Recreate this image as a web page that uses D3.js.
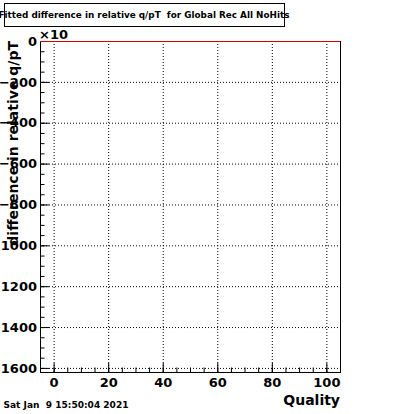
<!DOCTYPE html>
<html>
<head>
<meta charset="utf-8">
<script src="https://cdn.jsdelivr.net/npm/d3@7"></script>
<style>
  html, body { margin: 0; padding: 0; background: #fff; }
  svg { display: block; font-family: "DejaVu Sans", sans-serif; font-weight: bold; }
</style>
</head>
<body>
<svg id="chart" width="400" height="414"></svg>
<script>
// histogram content (all bins empty -> flat line at 0)
const binEdges = [-5, 105];
const binValues = [0, 0];

const xTicks = [0, 20, 40, 60, 80, 100];
const yTicks = [0, -200, -400, -600, -800, -1000, -1200, -1400, -1600];

const titleText = "Fitted difference in relative q/pT  for Global Rec All NoHits";
const xTitle = "Quality";
const yTitle = "difference in relative q/pT";
const dateText = "Sat Jan  9 15:50:04 2021";

const width = 400, height = 414;
const frame = { left: 40, right: 340, top: 41, bottom: 372 };

const svg = d3.select("#chart");

const x = d3.scaleLinear().domain([-5, 105]).range([frame.left, frame.right]);
const y = d3.scaleLinear().domain([0, -1620]).range([frame.top, frame.bottom]);

const xMinor = d3.range(-5, 106, 5);
const yMinor = d3.range(0, -1621, -50);

const fmtY = d => d === 0 ? "0" : "\u2212" + Math.abs(d);

// grid (dotted)
const grid = svg.append("g");
grid.append("g")
  .attr("transform", `translate(0,${frame.bottom})`)
  .call(d3.axisBottom(x).tickValues(xTicks).tickSize(-(frame.bottom - frame.top)).tickFormat(""))
  .call(g => g.select(".domain").remove());
grid.append("g")
  .attr("transform", `translate(${frame.left},0)`)
  .call(d3.axisLeft(y).tickValues(yTicks).tickSize(-(frame.right - frame.left)).tickFormat(""))
  .call(g => g.select(".domain").remove());
grid.selectAll("line")
  .attr("stroke", "#000")
  .attr("stroke-width", 1)
  .attr("stroke-dasharray", "1,2");

// frame
svg.append("rect")
  .attr("x", frame.left + 0.5)
  .attr("y", frame.top + 0.5)
  .attr("width", frame.right - frame.left)
  .attr("height", frame.bottom - frame.top)
  .attr("fill", "none")
  .attr("stroke", "#000")
  .attr("stroke-width", 1);

// minor ticks
svg.append("g")
  .attr("transform", `translate(0,${frame.bottom})`)
  .call(d3.axisBottom(x).tickValues(xMinor).tickSize(-4.5).tickFormat(""))
  .call(g => g.select(".domain").remove());
svg.append("g")
  .attr("transform", `translate(${frame.left},0)`)
  .call(d3.axisLeft(y).tickValues(yMinor).tickSize(-4.5).tickFormat(""))
  .call(g => g.select(".domain").remove());

// major ticks + labels
const xAxis = svg.append("g")
  .attr("transform", `translate(0,${frame.bottom})`)
  .call(d3.axisBottom(x).tickValues(xTicks).tickSize(-9).tickPadding(6).tickFormat(d3.format("d")))
  .call(g => g.select(".domain").remove());
xAxis.selectAll("text")
  .attr("font-size", 13)
  .attr("font-family", "DejaVu Sans")
  .attr("font-weight", "bold")
  .attr("fill", "#000");

const yAxis = svg.append("g")
  .attr("transform", `translate(${frame.left},0)`)
  .call(d3.axisLeft(y).tickValues(yTicks).tickSize(-9).tickPadding(3).tickFormat(fmtY))
  .call(g => g.select(".domain").remove());
yAxis.selectAll("text")
  .attr("font-size", 13)
  .attr("font-family", "DejaVu Sans")
  .attr("font-weight", "bold")
  .attr("fill", "#000");

svg.selectAll(".tick line").filter(function () { return !this.getAttribute("stroke-dasharray"); })
  .attr("stroke", "#000");

// exponent
svg.append("text")
  .attr("x", 39)
  .attr("y", 38.5)
  .attr("font-size", 13)
  .text("\u00d710");

// histogram line
const stepLine = d3.line()
  .x((d, i) => x(binEdges[i]))
  .y(d => y(d))
  .curve(d3.curveStepAfter);
svg.append("path")
  .datum(binValues)
  .attr("d", stepLine)
  .attr("fill", "none")
  .attr("stroke", "#d40000")
  .attr("stroke-width", 1)
  .attr("transform", "translate(0,0.5)");

// axis titles
svg.append("text")
  .attr("x", frame.right)
  .attr("y", 404.5)
  .attr("text-anchor", "end")
  .attr("font-size", 14)
  .text(xTitle);

svg.append("text")
  .attr("transform", `translate(18,${frame.top}) rotate(-90)`)
  .attr("text-anchor", "end")
  .attr("font-size", 14)
  .text(yTitle);

// title box
svg.append("rect")
  .attr("x", 4.5)
  .attr("y", 3.5)
  .attr("width", 280)
  .attr("height", 23)
  .attr("fill", "#fff")
  .attr("stroke", "#000")
  .attr("stroke-width", 1);
svg.append("text")
  .attr("x", 144)
  .attr("y", 18.3)
  .attr("text-anchor", "middle")
  .attr("font-size", 9)
  .attr("textLength", 291)
  .attr("lengthAdjust", "spacingAndGlyphs")
  .style("white-space", "pre")
  .text(titleText);

// date stamp
svg.append("text")
  .attr("x", 3.5)
  .attr("y", 407.7)
  .attr("font-size", 8.5)
  .attr("textLength", 125)
  .attr("lengthAdjust", "spacingAndGlyphs")
  .style("white-space", "pre")
  .text(dateText);
</script>
</body>
</html>
